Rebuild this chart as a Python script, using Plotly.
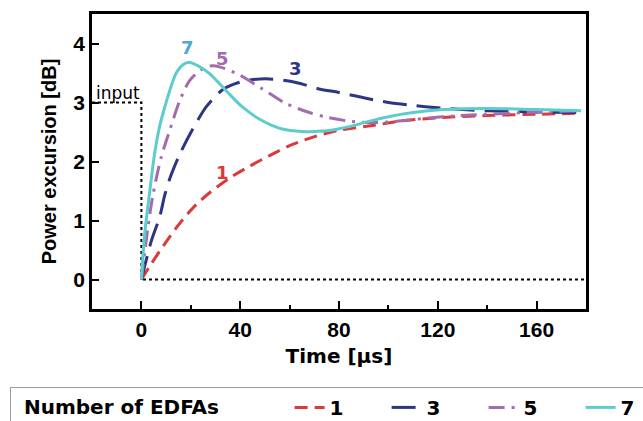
import plotly.graph_objects as go

# ---- data ----
t1 = [0, 3, 7.4, 14, 20.8, 27.6, 35.7, 43.8, 51.9, 60, 70.7, 80, 92, 106, 120, 140, 160, 178]
y1 = [0, 0.2, 0.48, 0.87, 1.21, 1.47, 1.72, 1.92, 2.1, 2.27, 2.43, 2.53, 2.6, 2.69, 2.74, 2.78, 2.8, 2.82]

t3 = [0, 4, 7.4, 9.4, 11.4, 15.5, 20.8, 26.3, 33, 38, 43.8, 51.9, 62.6, 72, 80, 90, 100, 110, 120, 130, 140, 160, 178]
y3 = [0, 0.65, 1.06, 1.42, 1.7, 2.12, 2.55, 2.93, 3.22, 3.32, 3.38, 3.4, 3.34, 3.23, 3.17, 3.08, 3.0, 2.95, 2.91, 2.88, 2.86, 2.84, 2.83]

t5 = [0, 2.6, 4.7, 8, 11.4, 15.5, 19.5, 24, 28, 32, 40, 49, 58.6, 68, 75, 83, 92, 100, 110, 122, 140, 156, 178]
y5 = [0, 0.87, 1.44, 2.07, 2.52, 3.03, 3.37, 3.55, 3.62, 3.6, 3.46, 3.23, 2.98, 2.83, 2.75, 2.69, 2.66, 2.67, 2.71, 2.76, 2.8, 2.83, 2.86]

t7 = [0, 1.3, 3.4, 5.4, 7.4, 10, 12.8, 14.1, 16.8, 19.6, 23, 27.6, 34.3, 41, 49, 57, 65, 75, 85, 92, 100, 110, 122, 140, 160, 178]
y7 = [0, 0.76, 1.5, 2.15, 2.6, 3.0, 3.37, 3.5, 3.64, 3.68, 3.62, 3.49, 3.2, 2.92, 2.69, 2.55, 2.51, 2.52, 2.6, 2.68, 2.76, 2.83, 2.88, 2.9, 2.88, 2.86]

t_input = [-20, 0, 0, 180]
y_input = [3, 3, 0, 0]

series_names = ["1", "3", "5", "7"]
colors = ["#d93a3a", "#2d3682", "#a26cae", "#5ccccc"]
label_colors = ["#d93a3a", "#2d3682", "#a26cae", "#4fa8d0"]
dashes = ["13px,7px", "24px,10px", "16px,7px,3px,7px", "solid"]
label_pos_x = [33, 62.4, 33, 18.8]
label_pos_y = [1.81, 3.58, 3.75, 3.94]

xticks = [0, 40, 80, 120, 160]
yticks = [0, 1, 2, 3, 4]

fig = go.Figure()

fig.add_trace(go.Scatter(x=t_input, y=y_input, mode="lines",
                         line=dict(color="black", width=2, dash="dot"),
                         showlegend=False, hoverinfo="skip"))

for tx, ty, name, c, d in zip([t1, t3, t5, t7], [y1, y3, y5, y7],
                              series_names, colors, dashes):
    fig.add_trace(go.Scatter(x=tx, y=ty, mode="lines", name=name,
                             line=dict(color=c, width=3, dash=d, shape="spline", smoothing=0.8)))

for name, c, lx, ly in zip(series_names, label_colors, label_pos_x, label_pos_y):
    fig.add_annotation(x=lx, y=ly, text=name, showarrow=False,
                       font=dict(family="DejaVu Sans", size=18, color=c, weight="bold"))

fig.add_annotation(x=-20, y=3.0, text="input", showarrow=False,
                   xanchor="left", yanchor="bottom", xshift=2, yshift=-2,
                   font=dict(family="DejaVu Sans", size=17, color="black"))

fig.update_layout(
    width=643, height=421,
    margin=dict(l=92, r=57, t=14, b=112),
    plot_bgcolor="white", paper_bgcolor="white",
    showlegend=True,
    legend=dict(
        orientation="h", xref="container", yref="container",
        x=0.0156, xanchor="left", y=0.081, yanchor="top",
        title=dict(text="\u00a0\u2009Number of EDFAs" + "\u00a0" * 9,
                   font=dict(family="DejaVu Sans", size=20, color="black", weight="bold")),
        font=dict(family="DejaVu Sans", size=20, color="black", weight="bold"),
        bordercolor="#9a9a9a", borderwidth=1, bgcolor="white",
        entrywidth=52,
    ),
    xaxis=dict(
        range=[-20, 180], tickvals=xticks, ticks="inside", ticklen=8, tickwidth=2,
        tickcolor="black", showgrid=False, zeroline=False, automargin=False,
        showline=True, linecolor="black", linewidth=2.5, mirror=True,
        minor=dict(dtick=20, tick0=0, ticks="inside", ticklen=4, tickwidth=2, tickcolor="black", showgrid=False),
        tickfont=dict(family="Liberation Sans", size=21, color="black", weight="bold"),
        title=dict(text="Time [µs]", standoff=10,
                   font=dict(family="DejaVu Sans", size=20, color="black", weight="bold")),
    ),
    yaxis=dict(
        range=[-0.5, 4.5], tickvals=yticks, ticks="inside", ticklen=7, tickwidth=2,
        tickcolor="black", showgrid=False, zeroline=False, automargin=False,
        showline=True, linecolor="black", linewidth=2.5, mirror=True,
        tickfont=dict(family="Liberation Sans", size=21, color="black", weight="bold"),
        title=dict(text="Power excursion [dB]", standoff=12,
                   font=dict(family="Liberation Sans", size=20, color="black", weight="bold")),
    ),
)

fig.write_html("out.html")
